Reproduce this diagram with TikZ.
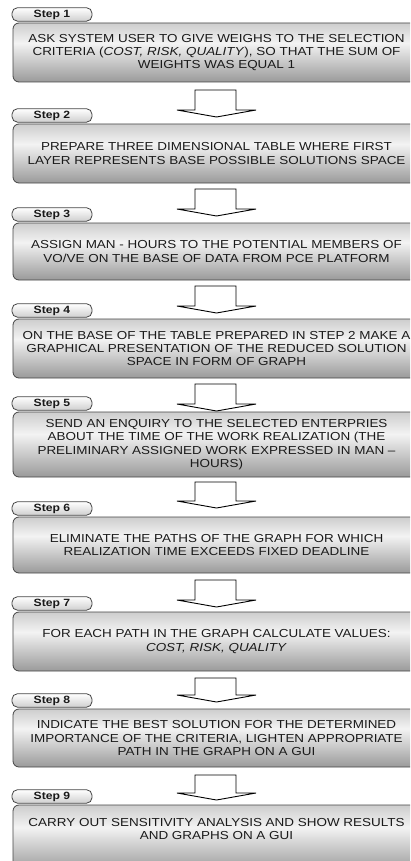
\documentclass[tikz,border=0pt]{standalone}
\usepackage{fontspec}
\setmainfont[FakeStretch=1.16]{Liberation Sans}

\definecolor{boxedge}{HTML}{454545}
\definecolor{shadetop}{HTML}{CDCDCD}
\definecolor{shademid}{HTML}{F3F3F3}
\definecolor{shadebot}{HTML}{9A9A9A}
\definecolor{tabbot}{HTML}{CFCFCF}
\definecolor{inktext}{HTML}{1A1A1A}

% vertical shading for the step boxes: grey top, pale band, darker bottom
\pgfdeclareverticalshading{stepshade}{100bp}{%
  color(0bp)=(shadebot); color(25bp)=(shadebot);
  color(58bp)=(shademid); color(75bp)=(shadetop); color(100bp)=(shadetop)}

\tikzset{
  stepbox/.style={draw=boxedge, line width=0.8pt, rounded corners=6pt,
    shading=stepshade, minimum width=407pt, inner sep=0pt},
  steptext/.style={align=center, text=inktext, inner sep=0pt,
    font=\fontsize{11.6}{13.4}\selectfont},
  steptab/.style={draw=boxedge, line width=0.8pt, rounded corners=5.5pt,
    top color=white, bottom color=tabbot, minimum width=80pt,
    minimum height=13.5pt, inner sep=0pt, text=inktext,
    font=\fontsize{10.5}{12}\selectfont\bfseries},
  flowarrow/.style={draw=black, line width=0.9pt, fill=white, line join=miter}
}

% hollow block arrow: shaft top, tip row
\newcommand\hollowarrow[2]{%
  \draw[flowarrow] (195,#1) -- (236,#1) -- (236,#2-7) -- (256,#2-7)
    -- (216.5,#2) -- (177,#2-7) -- (195,#2-7) -- cycle;}

\begin{document}
\begin{tikzpicture}[x=1pt, y=-1pt]
\useasboundingbox (0,0) rectangle (410,861);
\clip (0,0) rectangle (410,861);

% step boxes (top edge, height)
\node[stepbox, minimum height=59pt] (b1) at (216.5,52.5) {};
\node[stepbox, minimum height=59pt] (b2) at (216.5,153.5) {};
\node[stepbox, minimum height=57pt] (b3) at (216.5,251.5) {};
\node[stepbox, minimum height=59pt] (b4) at (216.5,348.5) {};
\node[stepbox, minimum height=65pt] (b5) at (216.5,444.5) {};
\node[stepbox, minimum height=56pt] (b6) at (216.5,545) {};
\node[stepbox, minimum height=59pt] (b7) at (216.5,641.5) {};
\node[stepbox, minimum height=58pt] (b8) at (216.5,738) {};
\node[stepbox, minimum height=66pt] (b9) at (216.5,838) {};

% texts of the steps
\node[steptext] (t1) at (b1.center) {ASK SYSTEM USER TO GIVE WEIGHS TO THE SELECTION\\
  CRITERIA (\textit{COST, RISK, QUALITY}), SO THAT THE SUM OF\\ WEIGHTS WAS EQUAL 1};
\node[steptext] (t2) at (b2.center) {PREPARE THREE DIMENSIONAL TABLE WHERE FIRST\\
  LAYER REPRESENTS BASE POSSIBLE SOLUTIONS SPACE};
\node[steptext] (t3) at (b3.center) {ASSIGN MAN - HOURS TO THE POTENTIAL MEMBERS OF\\
  VO/VE ON THE BASE OF DATA FROM PCE PLATFORM};
\node[steptext] (t4) at (b4.center) {ON THE BASE OF THE TABLE PREPARED IN STEP 2 MAKE A\\
  GRAPHICAL PRESENTATION OF THE REDUCED SOLUTION\\ SPACE IN FORM OF GRAPH};
\node[steptext] (t5) at (b5.center) {SEND AN ENQUIRY TO THE SELECTED ENTERPRIES\\
  ABOUT THE TIME OF THE WORK REALIZATION (THE\\
  PRELIMINARY ASSIGNED WORK EXPRESSED IN MAN –\\ HOURS)};
\node[steptext] (t6) at (b6.center) {ELIMINATE THE PATHS OF THE GRAPH FOR WHICH\\
  REALIZATION TIME EXCEEDS FIXED DEADLINE};
\node[steptext] (t7) at (b7.center) {FOR EACH PATH IN THE GRAPH CALCULATE VALUES:\\
  \textit{COST, RISK, QUALITY}};
\node[steptext] (t8) at (b8.center) {INDICATE THE BEST SOLUTION FOR THE DETERMINED\\
  IMPORTANCE OF THE CRITERIA, LIGHTEN APPROPRIATE\\ PATH IN THE GRAPH ON A GUI};
\node[steptext] (t9) at (216.5,829) {CARRY OUT SENSITIVITY ANALYSIS AND SHOW RESULTS\\
  AND GRAPHS ON A GUI};

% step tabs sitting on the boxes
\foreach \i in {1,...,9}{
  \node[steptab, anchor=south west] (s\i) at ([xshift=-1pt,yshift=1pt]b\i.north west) {Step \i};
}

% hollow arrows between the steps
\hollowarrow{90}{117}
\hollowarrow{189}{216}
\hollowarrow{286}{313}
\hollowarrow{384}{411}
\hollowarrow{482}{508}
\hollowarrow{580}{607}
\hollowarrow{678}{702}
\hollowarrow{775}{800}
\end{tikzpicture}
\end{document}
